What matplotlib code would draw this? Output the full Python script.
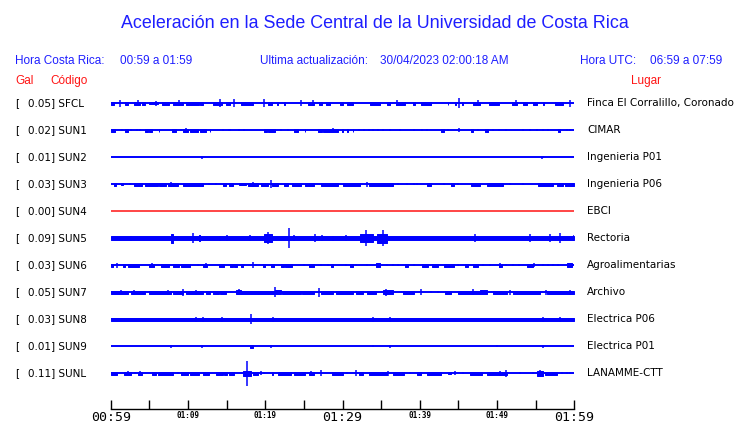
import matplotlib
matplotlib.use("Agg")
import matplotlib.pyplot as plt

W, H = 740, 423

# station metadata
codes = ["SFCL", "SUN1", "SUN2", "SUN3", "SUN4", "SUN5", "SUN6", "SUN7", "SUN8", "SUN9", "SUNL"]
gal = [0.05, 0.02, 0.01, 0.03, 0.00, 0.09, 0.03, 0.05, 0.03, 0.01, 0.11]
places = ["Finca El Corralillo, Coronado", "CIMAR", "Ingenieria P01", "Ingenieria P06", "EBCI",
          "Rectoria", "Agroalimentarias", "Archivo", "Electrica P06", "Electrica P01", "LANAMME-CTT"]

# bursts: (start minute, end minute, half amplitude)
sfcl = [(0.0, 0.4, 1.5), (1.2, 1.2, 3.5), (1.8, 2.3, 1.5), (3.0, 3.75, 1.8), (3.5, 3.5, 3), (4.0, 4.4, 1.5),
        (5.0, 6.1, 1.0), (5.8, 5.8, 2.5), (6.7, 7.5, 1.3), (8.0, 9.3, 1.8), (8.9, 8.9, 3), (9.7, 11.4, 1.3),
        (11.6, 12.0, 1.3), (13.3, 14.4, 1.8), (14.1, 14.1, 4), (14.9, 15.5, 1.2), (15.9, 15.9, 4),
        (16.8, 18.4, 1.3), (19.8, 19.8, 4), (20.3, 20.9, 1.5), (21.5, 21.6, 1.2), (22.4, 22.5, 1.2),
        (24.6, 24.6, 3), (25.5, 26.3, 1.5), (26.2, 26.2, 3), (26.9, 27.4, 1.5), (27.8, 28.4, 1.2),
        (29.7, 30.1, 1.3), (30.6, 31.4, 1.3), (33.6, 34.9, 1.2), (35.8, 36.2, 1.2), (36.9, 38.1, 1.5),
        (37.1, 37.1, 3), (39.1, 39.4, 1.5), (40.1, 41.4, 1.5), (43.6, 43.7, 1.8), (44.6, 44.7, 1.5),
        (45.1, 45.1, 5), (45.5, 45.6, 1.5), (46.9, 47.8, 1.5), (47.5, 47.5, 3), (48.9, 50.2, 1.5),
        (52.0, 52.6, 1.5), (52.5, 52.5, 3), (53.3, 53.9, 1.3), (54.6, 55.2, 1.3), (56.0, 56.1, 1.2),
        (57.5, 58.5, 1.2), (59.4, 59.4, 3.5)]
sun1 = [(0.1, 0.5, 1.5), (1.5, 1.5, 1), (1.9, 2.2, 1.5), (2.6, 2.6, 1), (3.4, 3.4, 1), (3.75, 3.75, 1.2),
        (4.5, 4.8, 1.3), (4.9, 5.4, 1.5), (6.2, 6.3, 1.2), (7.9, 8.4, 1.5), (9.1, 9.1, 1), (9.4, 10.0, 1.3),
        (9.8, 9.8, 2.5), (10.3, 11.25, 1.3), (11.6, 12.3, 1.2), (12.8, 12.9, 1.3), (14.5, 14.5, 1),
        (15.3, 15.3, 1), (15.5, 15.5, 1), (16.6, 16.6, 1), (17.2, 17.2, 1), (19.8, 20.2, 1.2),
        (20.4, 21.3, 1.3), (22.0, 22.0, 1), (22.9, 22.9, 1), (23.7, 24.2, 1.5), (25.1, 25.2, 1.3),
        (26.8, 27.4, 1.2), (27.5, 29.4, 1.3), (28.8, 28.8, 2), (29.9, 30.0, 1.2), (30.6, 30.7, 1.2),
        (31.3, 31.4, 1.3), (32.1, 32.1, 1), (32.8, 32.8, 1), (33.4, 33.4, 1), (34.0, 34.0, 1),
        (34.6, 34.6, 1), (35.3, 35.3, 1), (36.2, 36.2, 1), (37.5, 37.5, 1), (39.2, 39.2, 1.2),
        (40.3, 40.3, 1), (41.0, 41.0, 1), (42.7, 43.1, 1.2), (43.7, 43.7, 1), (45.1, 45.1, 2),
        (46.6, 46.9, 1.3), (47.6, 47.6, 1), (48.5, 48.8, 1.2), (49.5, 49.5, 1), (50.3, 50.3, 1),
        (51.1, 51.1, 1), (53.4, 53.4, 0.8), (54.3, 54.3, 0.8), (55.2, 55.2, 1), (56.0, 56.0, 1),
        (56.6, 56.6, 0.8), (57.9, 58.2, 1.2), (59.0, 59.0, 1), (59.5, 59.5, 1)]
sun2 = [(11.8, 11.8, 1.5), (55.8, 55.8, 1.5), (56.0, 56.0, 1.0)]
sun3 = [(0.4, 0.65, 1.3), (1.3, 1.55, 1), (2.5, 2.5, 1), (3.0, 4.1, 1.2), (4.5, 6.1, 1.2), (6.2, 7.1, 1.3),
        (7.4, 8.0, 1.5), (7.8, 7.8, 2.5), (8.1, 8.7, 1.2), (9.3, 12.0, 1.4), (12.7, 12.7, 1), (13.6, 13.6, 1),
        (14.5, 14.9, 1.2), (15.3, 15.8, 1.2), (16.6, 17.5, 1), (17.8, 19.0, 1.5), (18.4, 18.4, 2.5),
        (19.4, 20.4, 1.4), (20.7, 20.7, 4), (20.9, 21.7, 1.3), (22.4, 23.0, 1.2), (23.5, 24.6, 1.3),
        (25.2, 26.3, 1.3), (27.2, 29.4, 1.4), (30.0, 32.3, 1.4), (33.2, 33.2, 2.5), (33.4, 36.6, 1.3),
        (37.2, 37.2, 1), (38.4, 38.4, 1), (39.2, 39.2, 1), (39.7, 39.7, 1), (40.9, 41.4, 1.3),
        (43.1, 43.1, 1), (44.0, 44.4, 1.2), (44.9, 44.9, 1), (46.6, 47.8, 1.3), (48.75, 50.8, 1.4),
        (51.7, 51.7, 1), (53.3, 53.3, 1), (55.3, 57.3, 1.5), (57.8, 58.5, 1.2), (58.8, 60.0, 1.2)]
sun4 = []
sun5 = [(0.0, 60.0, 2.0), (2.6, 2.6, 2.5), (7.8, 8.1, 4.5), (10.7, 10.7, 5), (11.4, 11.6, 3), (14.2, 14.2, 2.5),
        (15.1, 15.1, 3), (18.0, 18.0, 3), (19.8, 20.9, 4), (20.3, 20.3, 6), (23.1, 23.1, 10), (23.7, 23.7, 3),
        (26.5, 26.5, 4), (27.4, 27.4, 3), (28.8, 28.8, 2.5), (30.4, 30.4, 3), (32.3, 33.9, 4), (33.0, 33.0, 8),
        (34.5, 35.8, 4.5), (35.3, 35.3, 8), (47.2, 47.2, 4), (54.3, 54.3, 4), (56.9, 56.9, 4),
        (58.2, 58.2, 5), (59.9, 59.9, 3)]
sun6 = [(0.0, 0.25, 1.2), (0.8, 0.8, 2.5), (1.55, 1.8, 1.2), (2.2, 3.6, 1.3), (4.9, 5.6, 1.5), (5.3, 5.3, 2.5),
        (6.5, 7.5, 1.3), (8.1, 8.8, 1.3), (9.05, 9.3, 1.2), (9.4, 10.3, 1.3), (11.25, 11.25, 1),
        (12.0, 12.5, 1.3), (12.3, 12.3, 2.5), (14.0, 14.6, 1.3), (15.5, 15.8, 1.2), (15.9, 16.4, 1.8),
        (16.8, 17.1, 1.2), (17.3, 17.3, 1), (18.4, 18.4, 3), (18.75, 18.75, 1), (19.65, 20.0, 1.3),
        (20.7, 21.1, 1.3), (22.0, 22.4, 1.3), (22.6, 22.9, 1.2), (23.0, 23.5, 1.3), (25.0, 25.0, 1),
        (25.6, 26.25, 1.3), (27.2, 27.2, 1), (28.1, 28.1, 1), (28.45, 28.8, 1.2), (30.4, 30.4, 1),
        (31.0, 31.3, 1.5), (31.7, 31.7, 1), (33.2, 33.2, 1), (34.4, 34.8, 2), (35.8, 35.8, 1),
        (36.6, 36.6, 1), (37.2, 37.2, 1), (38.1, 38.5, 1.2), (39.2, 39.2, 1), (40.3, 41.1, 1.3),
        (41.6, 42.4, 1.3), (43.1, 44.4, 1.2), (44.9, 44.9, 1), (45.9, 46.3, 1.2), (46.9, 47.5, 1.2),
        (48.2, 48.2, 1), (49.1, 49.1, 1), (50.2, 50.7, 1.5), (50.4, 50.4, 2.5), (51.1, 51.1, 1),
        (52.1, 52.1, 1), (52.8, 52.8, 1), (53.9, 54.6, 1.3), (54.8, 54.8, 2), (55.9, 55.9, 1),
        (56.6, 56.6, 1), (57.3, 57.3, 1), (57.9, 57.9, 1), (59.1, 59.7, 2)]
sun7 = [(0.0, 2.2, 1.3), (1.3, 1.3, 2), (2.6, 4.5, 1.5), (3.0, 3.0, 2.5), (4.9, 7.8, 1.3), (7.4, 7.4, 2.5),
        (8.1, 9.3, 1.3), (9.4, 9.4, 3.5), (9.7, 11.9, 1.4), (11.0, 11.0, 2.5), (12.3, 12.9, 1.2),
        (13.3, 14.0, 1.2), (14.2, 14.9, 1.5), (16.2, 16.8, 2), (16.55, 16.55, 3), (16.8, 19.0, 1.4),
        (19.1, 20.3, 1.3), (20.4, 21.1, 1.3), (21.2, 21.2, 5), (21.3, 22.0, 2), (22.2, 24.6, 1.3),
        (24.8, 26.3, 1.3), (26.9, 26.9, 4.5), (27.2, 28.8, 1.3), (29.1, 31.4, 1.5), (31.7, 32.6, 1.3),
        (33.2, 34.3, 1.3), (35.3, 36.5, 2), (35.6, 35.6, 3.5), (37.8, 39.2, 1.3), (40.1, 40.1, 3),
        (41.4, 41.4, 1), (42.4, 42.4, 1), (43.3, 44.0, 1.2), (44.9, 47.8, 1.5), (46.9, 46.9, 3),
        (47.8, 48.75, 2), (49.5, 51.3, 1.5), (51.7, 51.7, 2.5), (52.1, 55.6, 1.3), (56.3, 56.3, 2.5),
        (56.5, 59.9, 1.3), (59.5, 59.5, 2.5)]
sun8 = [(0.0, 60.0, 1.3), (11.1, 11.1, 2.5), (11.9, 11.9, 2.5), (14.45, 14.45, 2.5), (18.1, 18.1, 5),
        (20.95, 20.95, 2.5), (33.9, 33.9, 2.5), (36.1, 36.1, 2.5), (55.9, 55.9, 2.5), (58.1, 58.1, 2.5)]
sun9 = [(7.75, 7.75, 1.5), (11.8, 11.8, 1.5), (18.0, 18.4, 1.3), (20.8, 20.8, 1.5), (33.9, 33.9, 1),
        (36.1, 36.1, 1.3), (50.0, 50.0, 1), (55.9, 55.9, 1.5)]
sunl = [(0.0, 0.8, 1.3), (1.7, 2.6, 1.5), (2.3, 2.3, 2), (3.2, 3.2, 1), (3.5, 4.1, 1.5), (3.75, 3.75, 2.5),
        (5.3, 5.8, 1.3), (6.1, 8.1, 1.3), (8.7, 8.7, 1), (9.05, 10.0, 1.3), (10.2, 11.4, 1.3),
        (12.0, 12.7, 1.3), (13.6, 14.5, 1.2), (14.6, 15.0, 1.2), (15.3, 15.9, 1.2), (17.1, 18.1, 2.5),
        (17.7, 17.7, 12.5), (18.4, 19.0, 1.3), (19.4, 19.4, 2), (19.8, 19.8, 1), (20.9, 21.0, 1.3),
        (21.6, 23.3, 1.3), (23.7, 25.2, 1.3), (25.6, 26.25, 1.5), (25.9, 25.9, 2.5), (27.2, 27.2, 3),
        (28.7, 30.1, 1.3), (30.6, 30.6, 1), (31.7, 31.7, 3), (32.1, 32.7, 1.3), (33.4, 35.8, 1.3),
        (35.95, 35.95, 2.5), (36.6, 37.9, 1.2), (38.8, 38.8, 1), (39.7, 40.1, 1.3), (41.0, 42.7, 1.3),
        (43.6, 44.0, 1), (44.6, 44.6, 2), (45.6, 45.6, 1), (46.55, 47.5, 1.2), (47.6, 48.1, 1.3),
        (48.75, 51.3, 1.5), (50.4, 50.4, 2.5), (51.1, 51.1, 3.5), (53.0, 53.0, 1), (54.6, 54.6, 1),
        (55.2, 56.0, 2.5), (55.6, 55.6, 3.5), (56.25, 57.8, 1.3), (58.45, 58.45, 1), (59.1, 59.1, 1),
        (59.5, 59.5, 1)]
traces = [sfcl, sun1, sun2, sun3, sun4, sun5, sun6, sun7, sun8, sun9, sunl]

tick_min = list(range(0, 61, 5))
tick_lbl = {0: "00:59", 10: "01:09", 20: "01:19", 30: "01:29", 40: "01:39", 50: "01:49", 60: "01:59"}
big_lbl = [0, 30, 60]

BLUE = "#0000ff"
TBLUE = "#1e1eff"
RED = "#ff1414"


def px(x, y):
    return x / W, 1 - y / H


fig = plt.figure(figsize=(W / 100, H / 100), dpi=100)

# trace area: x in minutes, y in pixel rows (top = 0)
x0, x1, ybot = 110.7, 574.3, 409
ax = fig.add_axes([x0 / W, (H - ybot) / H, (x1 - x0) / W, ybot / H])
ax.set_xlim(0, 60)
ax.set_ylim(ybot, 0)
for s in ["top", "left", "right"]:
    ax.spines[s].set_visible(False)
ax.spines["bottom"].set_linewidth(1.0)
ax.set_yticks([])
ax.set_xticks(tick_min)
ax.set_xticklabels([tick_lbl.get(m, "") for m in tick_min])
ax.tick_params(axis="x", direction="in", length=6.2, width=1.0, pad=1.5)
for m, lab in zip(tick_min, ax.get_xticklabels()):
    lab.set_fontfamily("DejaVu Sans Mono")
    if m in big_lbl:
        lab.set_fontsize(9.5)
    else:
        lab.set_fontsize(5.5)
        lab.set_fontweight("bold")

row0, row_step = 103.3, 27.0
for i, bursts in enumerate(traces):
    yc = row0 + i * row_step
    col = RED if codes[i] == "SUN4" else BLUE
    ax.hlines(yc, 0, 60, color=col, lw=1.1 if col == RED else 1.4)
    for t0, t1, a in bursts:
        if t1 - t0 < 0.05:
            ax.vlines(t0, yc - a, yc + a, color=col, lw=1.1)
        else:
            ax.broken_barh([(t0, t1 - t0)], (yc - a, 2 * a), facecolor=col, edgecolor=col, lw=0.7)

    # left and right labels
    fig.text(*px(15, yc), "[", fontsize=7.5, va="center", ha="left")
    fig.text(*px(27.5, yc), f"{gal[i]:.2f}] {codes[i]}", fontsize=7.5, va="center", ha="left")
    fig.text(*px(587, yc), places[i], fontsize=7.5, va="center", ha="left")

# header
hf = "Liberation Sans"
fig.text(*px(375, 23), "Aceleración en la Sede Central de la Universidad de Costa Rica",
         color=TBLUE, fontsize=12.9, family=hf, ha="center", va="center")
fig.text(*px(15, 61), "Hora Costa Rica:", color=TBLUE, fontsize=8.5, family=hf, va="center")
fig.text(*px(120, 61), "00:59 a 01:59", color=TBLUE, fontsize=8.5, family=hf, va="center")
fig.text(*px(260, 61), "Ultima actualización:", color=TBLUE, fontsize=8.5, family=hf, va="center")
fig.text(*px(380, 61), "30/04/2023 02:00:18 AM", color=TBLUE, fontsize=8.5, family=hf, va="center")
fig.text(*px(580.5, 61), "Hora UTC:", color=TBLUE, fontsize=8.5, family=hf, va="center")
fig.text(*px(650.5, 61), "06:59 a 07:59", color=TBLUE, fontsize=8.5, family=hf, va="center")
fig.text(*px(15, 81), "Gal", color=RED, fontsize=8.5, family=hf, va="center")
fig.text(*px(50.5, 81), "Código", color=RED, fontsize=8.5, family=hf, va="center")
fig.text(*px(630.5, 81), "Lugar", color=RED, fontsize=8.5, family=hf, va="center")

fig.savefig("out.png", dpi=100)
